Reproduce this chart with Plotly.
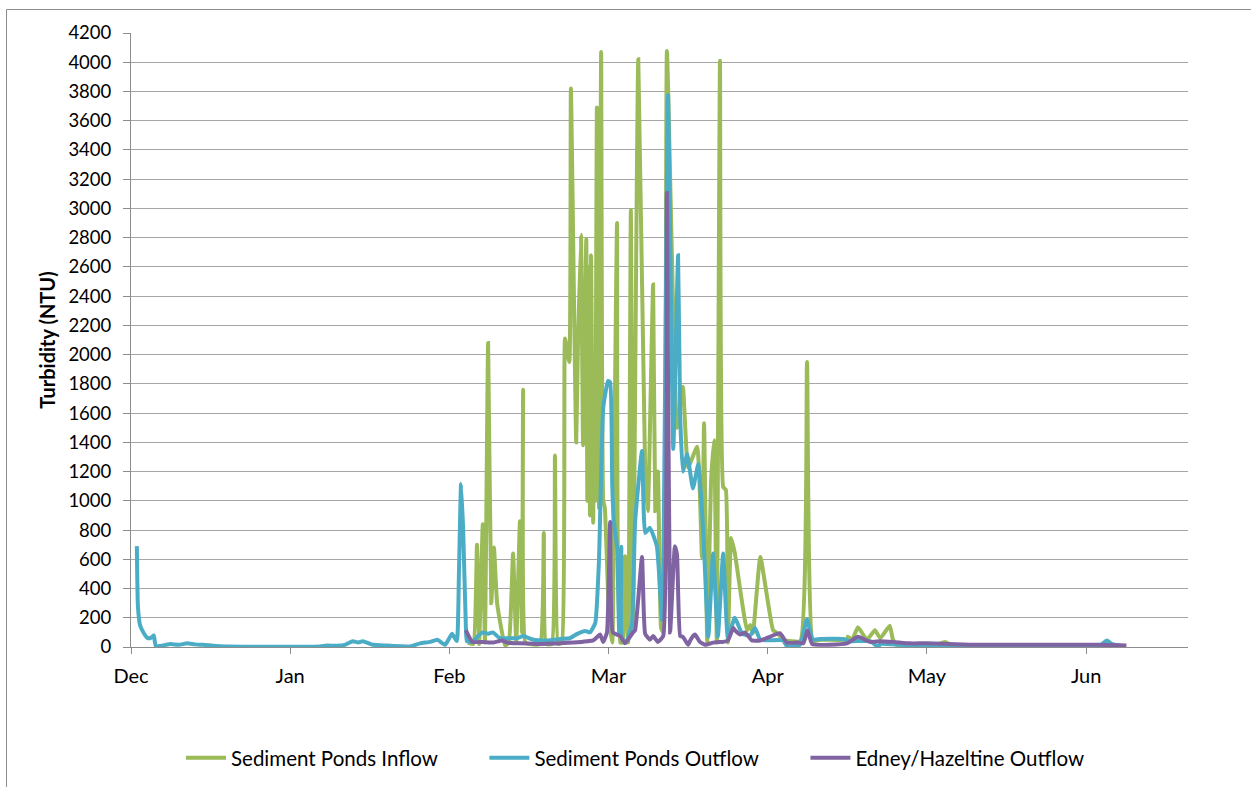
import plotly.graph_objects as go

# x values: days since 1 Dec (axis shows month labels every 30 days)
month_ticks = [0, 30, 60, 90, 120, 150, 180]
month_labels = ["Dec", "Jan", "Feb", "Mar", "Apr", "May", "Jun"]

inflow_day = [63.5, 64.5, 65.2, 65.6, 66.3, 66.7, 67.3, 67.9, 68.4, 69.0, 70.5, 71.2, 72.0, 72.6,
              73.3, 73.7, 73.9, 74.3, 75.2, 77.1, 77.8, 78.2, 79.3, 79.9, 80.5, 81.2, 81.8, 82.6,
              82.9, 83.9, 84.2, 84.8, 85.2, 85.8, 86.0, 86.3, 86.5, 86.7, 87.1, 87.3, 87.5, 87.8,
              88.2, 88.6, 89.0,
              89.3, 90.1, 90.7, 91.0, 91.6, 92.2, 92.7, 93.1, 93.7, 94.2, 94.6, 95.6, 96.9, 97.4,
              98.4, 98.8, 99.3, 99.9, 100.3, 101.0, 102.9, 104.0, 105.0, 106.7, 107.6, 108.0, 108.6,
              109.3, 109.9, 110.4, 111.0, 111.6, 112.1, 112.5, 113.1, 113.8, 116.1, 116.7, 117.2,
              118.6, 121.0, 121.8, 122.9, 126.1, 127.4, 128.5, 129.9, 134.9, 135.1, 135.9, 137.0,
              138.7, 140.2, 141.2, 143.0, 143.6, 144.4, 146.8, 151.2, 153.4, 154.9, 163.8, 178.9, 186.4]
inflow_val = [30, 20, 700, 20, 840, 30, 2080, 300, 680, 300, 10, 30, 640, 30,
              860, 100, 1760, 30, 20, 20, 780, 20, 20, 1310, 20, 30, 2110, 1950,
              3820, 1400, 2000, 2820, 1380, 2790, 1000, 2600, 900, 2680, 850, 2000, 1000, 3690,
              950, 4070, 1000,
              950, 200, 30, 1000, 2900, 30, 30, 620, 30, 2990, 100, 4020, 1200, 930,
              2480, 930, 1200, 130, 100, 4077, 1500, 1780, 1230, 1370, 615, 1530, 30,
              1120, 1415, 30, 4010, 1095, 1075, 30, 745, 640, 115, 150, 95,
              615, 115, 95, 50, 40, 1950, 40, 50, 50, 70, 50, 135,
              50, 115, 60, 145, 50, 10, 20, 10, 35, 10, 5, 3, 2]

outflow_day = [1.1, 1.3, 1.7, 2.1, 3.0, 3.6, 4.0, 4.3, 4.7, 7.4, 9.0, 10.6, 12.0, 13.6, 16.8, 22.4,
               30.0, 35.6, 36.9, 38.8, 40.3, 41.8, 42.8, 43.7, 45.6, 48.3, 50.7, 52.6, 54.5, 56.4,
               57.7, 59.2, 60.5, 61.4, 61.8, 62.2, 62.6, 63.1, 63.3, 64.3, 65.4, 66.3, 67.3, 68.2,
               69.5, 70.9, 72.8, 73.9, 75.8, 78.4, 80.9, 82.7, 84.1, 85.6, 86.5, 87.5, 88.2, 89.0,
               89.9, 90.3, 90.7, 91.0, 91.6, 92.0, 92.4, 92.5, 93.3, 94.4, 95.0, 96.3, 96.9, 97.8,
               99.1, 100.1, 101.2, 102.2, 103.1, 103.5, 104.0, 104.8, 105.9, 106.9, 107.8, 108.8,
               109.7, 110.6, 111.6, 112.5, 113.8, 115.2, 116.7, 117.6, 118.6, 122.9, 123.6, 124.2,
               126.1, 127.4, 128.5, 129.9, 134.2, 135.5, 139.3, 140.8, 141.2, 144.9, 150.0, 163.8,
               178.9, 182.6, 183.9, 184.9, 187.3]
outflow_val = [690, 280, 150, 115, 65, 60, 70, 80, 5, 20, 15, 25, 18, 15, 5, 2,
               1, 3, 10, 8, 15, 40, 30, 40, 15, 10, 5, 3, 25, 35,
               50, 15, 90, 40, 500, 1115, 800, 150, 40, 35, 75, 100, 90, 100,
               60, 60, 60, 75, 50, 45, 55, 60, 90, 110, 100, 165, 600, 1640,
               1820, 1810, 1100, 855, 685, 100, 685, 60, 30, 160, 855, 1340, 780, 815,
               690, 185, 3775, 1355, 2680, 1580, 1200, 1320, 1085, 1250, 820, 70,
               640, 70, 640, 60, 200, 90, 80, 130, 50, 45, 5, 5,
               15, 190, 50, 55, 55, 40, 40, 0, 20, 15, 8, 5,
               5, 10, 45, 20, 5]

edney_day = [63.1, 64.3, 66.3, 68.2, 69.9, 70.9, 73.3, 77.1, 83.3, 87.1, 88.4, 89.0, 89.7, 90.3,
             90.8, 92.2, 93.1, 94.6, 95.0, 96.3, 96.9, 97.8, 98.4, 99.3, 100.3, 101.0, 101.6,
             102.5, 102.9, 103.5, 104.0, 105.0, 105.4, 105.9, 106.3, 107.2, 108.2, 109.7, 111.0,
             111.6, 112.5, 113.5, 113.8, 114.8, 115.7, 117.0, 118.6, 120.4, 122.3, 123.6, 125.7,
             126.7, 127.5, 128.4, 134.9, 137.0, 139.3, 141.2, 143.6, 146.8, 150.0, 158.1, 171.3,
             182.6, 187.6]
edney_val = [115, 35, 35, 30, 45, 30, 25, 20, 30, 45, 85, 35, 100, 855,
             100, 75, 25, 100, 115, 615, 90, 50, 75, 35, 75, 3105, 100,
             690, 630, 75, 70, 15, 45, 75, 85, 35, 15, 30, 35,
             35, 45, 130, 115, 85, 100, 45, 45, 70, 95, 30, 30,
             25, 115, 20, 25, 70, 35, 40, 35, 25, 25, 15, 15,
             15, 10]

series_names = ["Sediment Ponds Inflow", "Sediment Ponds Outflow", "Edney/Hazeltine Outflow"]
series_colors = ["#9BBB59", "#4BACC6", "#8064A2"]

FONT = "Lato, 'Open Sans', sans-serif"
PAD = "\u00a0" * 8  # spacing between legend entries

fig = go.Figure()
for xs, ys, name, col in zip([inflow_day, outflow_day, edney_day],
                             [inflow_val, outflow_val, edney_val],
                             series_names, series_colors):
    fig.add_trace(go.Scatter(x=xs, y=ys, mode="lines", name=name + PAD,
                             line=dict(color=col, width=4, shape="spline", smoothing=0.4)))

fig.update_layout(
    width=1251, height=787,
    margin=dict(l=131, r=63, t=33, b=140),
    paper_bgcolor="white", plot_bgcolor="white",
    font=dict(family=FONT, size=18, color="black"),
    showlegend=True,
    legend=dict(orientation="h", xref="container", yref="container",
                x=181 / 1251, xanchor="left", y=1 - 758 / 787, yanchor="middle",
                font=dict(size=20.5, family=FONT), itemwidth=40, traceorder="normal"),
    xaxis=dict(range=[0, 199.2], tickvals=month_ticks, ticktext=month_labels, automargin=False,
               showgrid=False, zeroline=False, showline=True, linecolor="#8c8c8c", linewidth=1,
               ticks="outside", ticklen=6, tickcolor="#8c8c8c", tickfont=dict(size=20),
               ticklabelstandoff=5),
    yaxis=dict(range=[0, 4200], dtick=200, showgrid=True, gridcolor="#a6a6a6", gridwidth=1,
               automargin=False,
               zeroline=False, showline=True, linecolor="#8c8c8c", linewidth=1,
               ticks="outside", ticklen=7, tickcolor="#8c8c8c", tickfont=dict(size=18.5),
               ticklabelstandoff=8,
               title=dict(text="<b>Turbidity (NTU)</b>", font=dict(size=20), standoff=7)),
    shapes=[dict(type="rect", xref="paper", yref="paper",
                 x0=(6.5 - 131) / 1057, x1=1.2, y0=-0.4, y1=(647 - 9.5) / 614,
                 line=dict(color="#8c8c8c", width=1), fillcolor="rgba(0,0,0,0)", layer="below")],
)

fig.write_html("out.html", post_script="document.body.style.margin='0';",
               config={"displayModeBar": False})
